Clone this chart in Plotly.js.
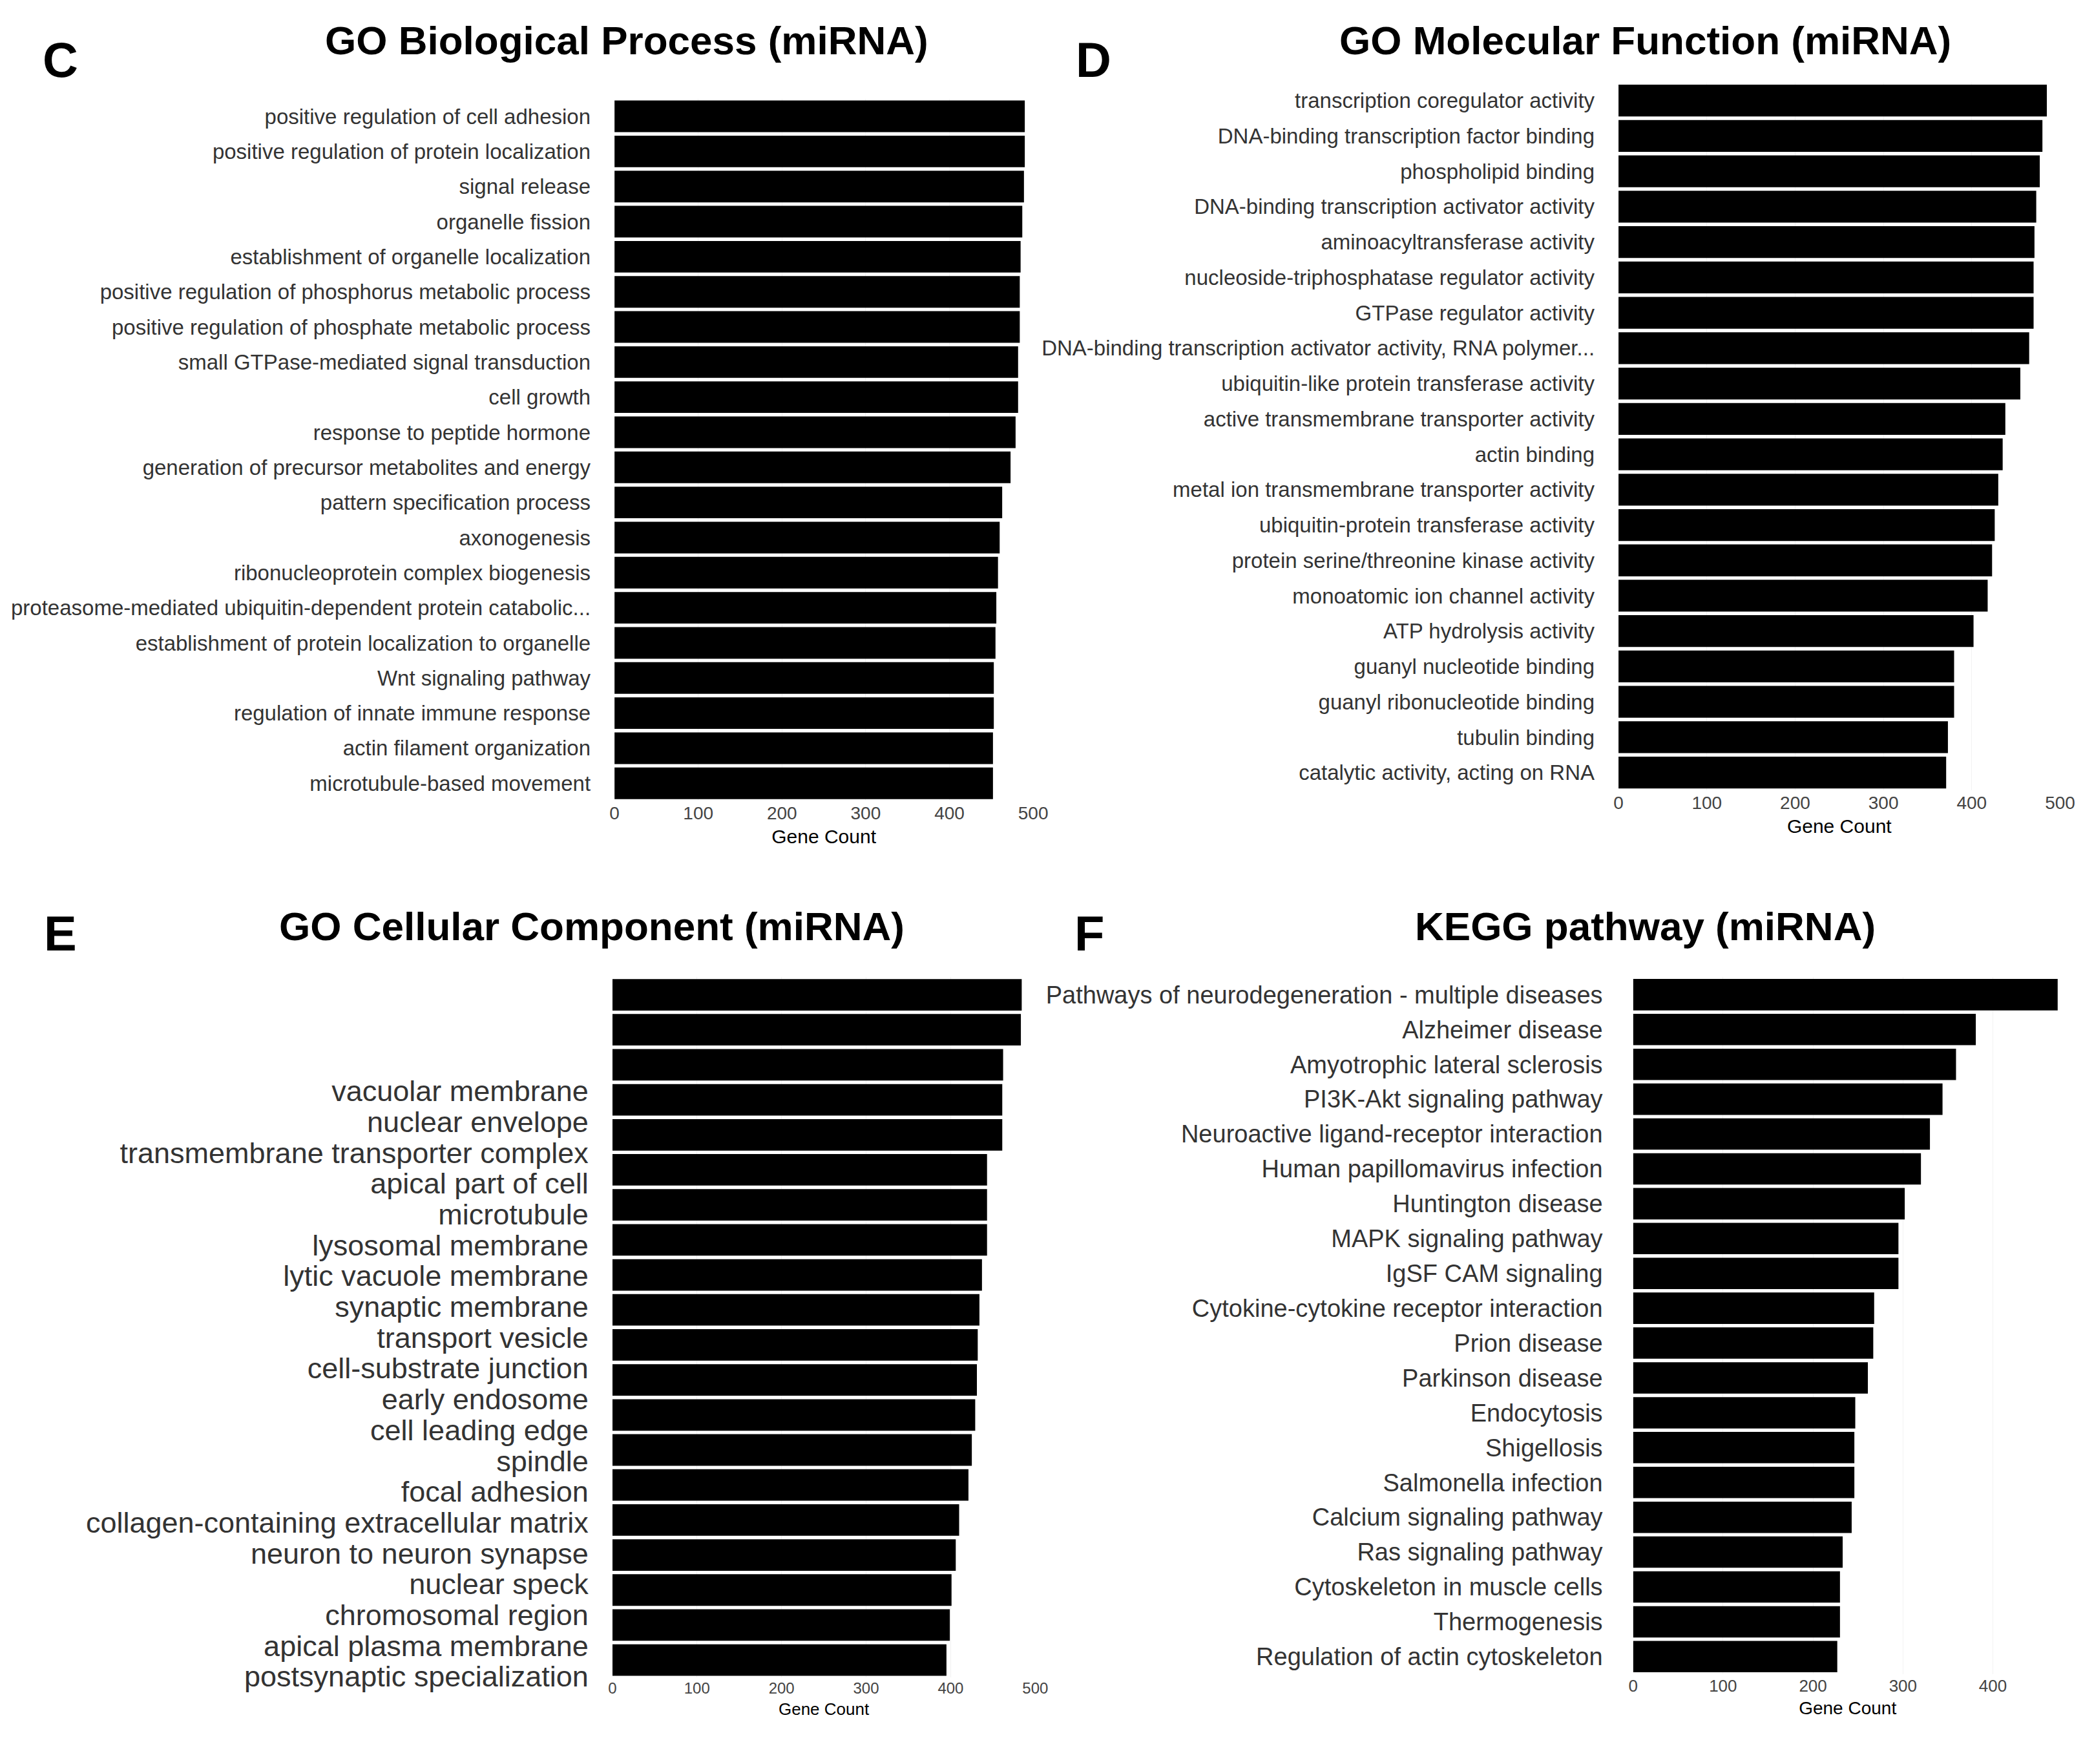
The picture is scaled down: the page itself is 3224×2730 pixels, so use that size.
<!DOCTYPE html>
<html><head><meta charset="utf-8">
<script src="https://cdn.plot.ly/plotly-3.0.1.min.js"></script>
<style>body{margin:0;background:#fff}</style>
</head><body><div id="chart" style="width:3224px;height:2730px"></div>
<script>
// GO / KEGG enrichment (miRNA) - gene counts, top to bottom
const bpTerms = ['positive regulation of cell adhesion','positive regulation of protein localization','signal release','organelle fission','establishment of organelle localization','positive regulation of phosphorus metabolic process','positive regulation of phosphate metabolic process','small GTPase-mediated signal transduction','cell growth','response to peptide hormone','generation of precursor metabolites and energy','pattern specification process','axonogenesis','ribonucleoprotein complex biogenesis','proteasome-mediated ubiquitin-dependent protein catabolic...','establishment of protein localization to organelle','Wnt signaling pathway','regulation of innate immune response','actin filament organization','microtubule-based movement'];
const bpCounts = [490,490,489,487,485,484,484,482,482,479,473,463,460,458,456,455,453,453,452,452];

const mfTerms = ['transcription coregulator activity','DNA-binding transcription factor binding','phospholipid binding','DNA-binding transcription activator activity','aminoacyltransferase activity','nucleoside-triphosphatase regulator activity','GTPase regulator activity','DNA-binding transcription activator activity, RNA polymer...','ubiquitin-like protein transferase activity','active transmembrane transporter activity','actin binding','metal ion transmembrane transporter activity','ubiquitin-protein transferase activity','protein serine/threonine kinase activity','monoatomic ion channel activity','ATP hydrolysis activity','guanyl nucleotide binding','guanyl ribonucleotide binding','tubulin binding','catalytic activity, acting on RNA'];
const mfCounts = [485,480,477,473,471,470,470,465,455,438,435,430,426,423,418,402,380,380,373,371];

const ccTerms = ['vacuolar membrane','nuclear envelope','transmembrane transporter complex','apical part of cell','microtubule','lysosomal membrane','lytic vacuole membrane','synaptic membrane','transport vesicle','cell-substrate junction','early endosome','cell leading edge','spindle','focal adhesion','collagen-containing extracellular matrix','neuron to neuron synapse','nuclear speck','chromosomal region','apical plasma membrane','postsynaptic specialization'];
const ccCounts = [484,483,462,461,461,443,443,443,437,434,432,431,429,425,421,410,406,401,399,395];

const keggTerms = ['Pathways of neurodegeneration - multiple diseases','Alzheimer disease','Amyotrophic lateral sclerosis','PI3K-Akt signaling pathway','Neuroactive ligand-receptor interaction','Human papillomavirus infection','Huntington disease','MAPK signaling pathway','IgSF CAM signaling','Cytokine-cytokine receptor interaction','Prion disease','Parkinson disease','Endocytosis','Shigellosis','Salmonella infection','Calcium signaling pathway','Ras signaling pathway','Cytoskeleton in muscle cells','Thermogenesis','Regulation of actin cytoskeleton'];
const keggCounts = [472,381,359,344,330,320,302,295,295,268,267,261,247,246,246,243,233,230,230,227];

const xTicks = [0,100,200,300,400,500];

const sans = '"Liberation Sans", Arial, sans-serif';

function idx(n){ return Array.from({length:n},(_,i)=>i); }

function bars(counts, ax){
  return {type:'bar', orientation:'h', x:counts, y:idx(counts.length),
    marker:{color:'#000', line:{color:'#000',width:0}},
    xaxis:'x'+ax, yaxis:'y'+ax, hoverinfo:'x', showlegend:false};
}

const traces = [bars(bpCounts,''), bars(mfCounts,'2'), bars(ccCounts,'3'), bars(keggCounts,'4')];

function xa(dom, rng, anchor, fs){
  return {domain:dom, range:rng, anchor:anchor, tickvals:xTicks, ticks:'',
    showgrid:true, gridcolor:'#f2f2f2', zeroline:false, showline:false,
    tickfont:{family:sans,size:fs,color:'#444'},
    title:{text:'Gene Count', font:{family:sans,size:fs+2,color:'#000'}, standoff:10}};
}
function ya(dom, terms, anchor, fs, standoff, tv){
  return {domain:dom, range:[terms.length-0.5,-0.5], anchor:anchor,
    tickvals: tv || idx(terms.length), ticktext:terms, ticks:'',
    showgrid:false, zeroline:false, showline:false, ticklabelstandoff:standoff,
    tickfont:{family:sans,size:fs,color:'#333'}};
}

// E labels are packed tighter than its bars in the original figure
const ccTickPos = idx(ccTerms.length).map(i => 2.75 + 0.88*i);

function label(t, x, y){
  return {text:'<b>'+t+'</b>',x:x,y:y,xref:'paper',yref:'paper',xanchor:'center',yanchor:'middle',showarrow:false,font:{family:sans,size:76,color:'#000'}};
}
function title(t, x, y){
  return {text:'<b>'+t+'</b>',x:x,y:y,xref:'paper',yref:'paper',xanchor:'center',yanchor:'middle',showarrow:false,font:{family:sans,size:62,color:'#000'}};
}

const layout = {
  width:3224, height:2730, paper_bgcolor:'#fff', plot_bgcolor:'#fff',
  margin:{l:0,r:0,t:0,b:0}, bargap:0.1,
  xaxis: xa([0.295,0.496],[0,500],'y',28),
  yaxis: ya([0.546,0.944],bpTerms,'x',33,36),
  xaxis2: xa([0.777,0.989],[0,500],'y2',28),
  yaxis2: ya([0.552,0.953],mfTerms,'x2',33,36),
  xaxis3: xa([0.294,0.497],[0,500],'y3',24),
  yaxis3: ya([0.049,0.446],ccTerms,'x3',45,36,ccTickPos),
  xaxis4: xa([0.784,0.990],[0,477],'y4',26),
  yaxis4: ya([0.051,0.446],keggTerms,'x4',38,46),
  annotations:[
    label('C',0.029,0.966), label('D',0.525,0.966), label('E',0.029,0.471), label('F',0.523,0.471),
    title('GO Biological Process (miRNA)',0.301,0.977),
    title('GO Molecular Function (miRNA)',0.790,0.977),
    title('GO Cellular Component (miRNA)',0.284,0.475),
    title('KEGG pathway (miRNA)',0.790,0.475)
  ]
};

Plotly.newPlot('chart', traces, layout, {staticPlot:true});
</script></body></html>
